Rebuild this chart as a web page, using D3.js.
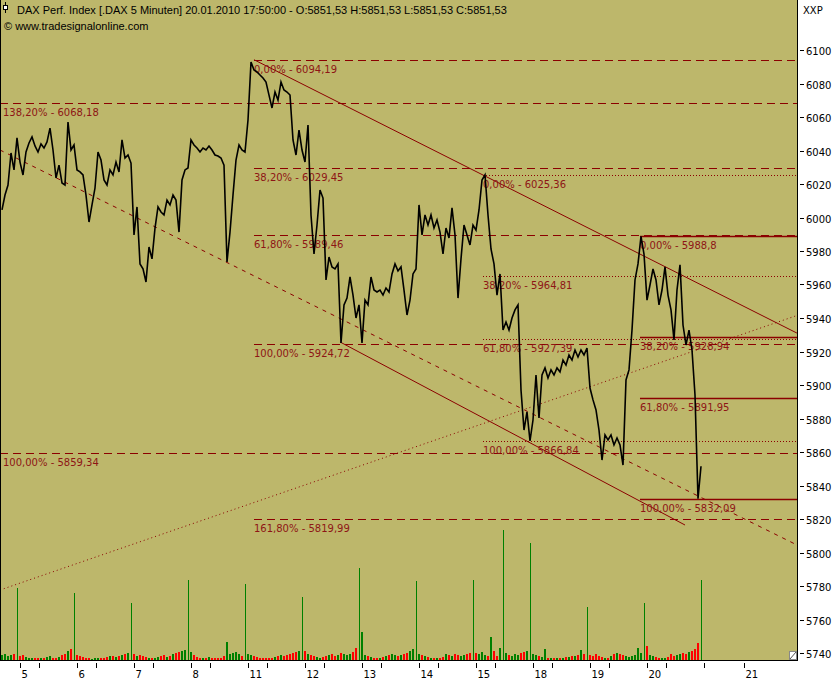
<!DOCTYPE html>
<html><head><meta charset="utf-8">
<script src="https://cdn.jsdelivr.net/npm/d3@7/dist/d3.min.js"></script>
<style>body{margin:0;background:#fff}svg{display:block}</style>
</head><body>
<svg id="c" width="840" height="680"></svg>
<script>
// ---------- data ----------
const dayLabels = ["5","6","7","8","11","12","13","14","15","18","19","20"];
const extraTickDays = [12, 12.7];
const extraTickLabels = ["", "21"];
const samplesPerDay = 19;
const firstSampleDay = -6/19;
const price = [
6004.5,6013.4,6019.4,6038.5,6028.4,6047.5,6033.1,6025.4,6039.1,6044.5,
6048.1,6042.7,6039.1,6043.9,6041.5,6045.1,6053.4,6040.3,6023.6,6031.3,
6020.6,6019.4,6057.0,6040.3,6043.3,6028.4,6027.2,6025.4,6013.4,5997.3,
6007.5,6017.6,6039.1,6034.3,6022.4,6019.4,6028.4,6025.4,6033.1,6027.2,
6046.3,6035.5,6037.3,6032.5,5989.6,6006.3,5972.3,5969.3,5961.5,5982.4,
5975.3,5993.7,6006.3,6003.3,6001.5,6010.4,6007.5,6013.4,6010.4,5991.3,
6022.4,6028.4,6029.6,6046.3,6043.3,6041.5,6039.1,6041.5,6040.3,6042.7,
6040.3,6037.3,6036.7,6035.5,6031.3,5973.5,5991.3,6013.4,6034.3,6043.3,
6040.3,6039.1,6058.2,6092.8,6088.1,6086.9,6085.1,6083.3,6080.9,6073.1,
6065.4,6074.9,6070.1,6080.9,6076.1,6074.9,6073.1,6046.3,6037.3,6052.2,
6040.3,6033.1,6055.2,6001.5,5978.2,5995.5,6016.4,6011.6,5962.7,5976.4,
5970.5,5969.3,5972.3,5925.1,5947.8,5951.9,5964.5,5953.7,5940.0,5947.8,
5925.1,5950.7,5947.8,5964.5,5956.7,5955.5,5956.7,5953.7,5957.9,5955.5,
5966.3,5972.3,5968.1,5970.5,5956.7,5941.8,5950.7,5966.3,5969.3,6007.5,
5989.6,6001.5,5995.5,6001.5,5993.7,5998.5,5991.3,5978.2,5993.7,5987.8,
6005.7,5989.6,5951.9,5975.3,5995.5,5989.6,5983.6,5995.5,5992.5,6004.5,
6022.4,6025.4,6001.5,5981.2,5972.3,5953.7,5966.3,5932.8,5937.6,5932.8,
5940.0,5944.8,5947.8,5897.0,5873.1,5883.9,5866.6,5879.1,5906.0,5880.3,
5906.0,5910.2,5904.2,5909.0,5906.0,5910.2,5907.8,5914.9,5911.9,5917.9,
5914.9,5920.9,5916.7,5920.9,5917.9,5922.1,5898.2,5891.1,5885.1,5873.1,
5855.2,5870.2,5867.2,5870.2,5864.2,5868.4,5864.2,5852.2,5903.0,5909.0,
5932.8,5962.7,5972.3,5988.8,5978.2,5950.7,5959.7,5969.3,5962.7,5947.8,
5956.7,5970.5,5953.7,5944.8,5926.9,5956.7,5971.7,5935.8,5923.9,5932.8,
5920.9,5894.0,5832.1,5851.5];
const volume = [
25,30,20,25,30,360,
20,25,15,12,10,8,10,10,12,15,20,12,10,15,25,30,45,55,335,
25,20,15,10,8,6,8,10,8,12,15,20,18,15,20,25,30,35,285,
30,20,25,20,15,10,12,10,15,20,25,15,20,30,35,40,45,50,400,
40,25,15,12,10,12,15,10,8,10,12,20,90,30,35,40,30,20,380,
30,25,20,15,12,10,8,10,12,15,20,25,20,25,30,35,40,45,315,
45,30,25,20,15,12,15,20,25,30,20,25,35,30,25,30,40,60,460,
140,25,20,15,12,10,12,15,20,25,30,25,20,25,30,35,45,55,395,
30,25,20,15,12,10,8,12,15,30,25,20,30,25,20,25,30,35,400,
35,30,40,25,20,115,45,20,60,650,35,25,20,30,25,35,40,45,585,
30,25,20,15,55,10,8,8,10,10,12,15,15,20,20,25,50,30,265,
25,20,30,20,15,12,10,20,30,35,30,25,20,15,20,25,60,35,285,
70,25,20,15,12,10,12,15,30,20,25,30,35,30,40,45,55,85,400];
const yTickValues = d3.range(5740, 6101, 20);
// Fibonacci retracement sets
const fibStartDays = [-0.351, 4.105, 8.123, 10.877];
const fibPercents = [
  ["138,20%","100,00%"],
  ["0,00%","38,20%","61,80%","100,00%","161,80%"],
  ["0,00%","38,20%","61,80%","100,00%"],
  ["0,00%","38,20%","61,80%","100,00%"]];
const fibValues = [
  [6068.18, 5859.34],
  [6094.19, 6029.45, 5989.46, 5924.72, 5819.99],
  [6025.36, 5964.81, 5927.39, 5866.84],
  [5988.8, 5928.94, 5891.95, 5832.09]];
const fibDash = ["8,5", "8,5", "1,2", null];
// trend lines: [startDay, endDay], [startPrice, endPrice]
const trendDays = [[4.105, 13.63], [5.614, 11.667], [-0.351, 13.63], [-0.351, 13.63]];
const trendPrices = [[6094.19, 5931.0], [5925.7, 5816.4], [6040.3, 5804.5], [5777.6, 5941.5]];
const trendDash = [null, null, "4,5", "1,3"];
const headerText = "DAX Perf. Index [.DAX  5 Minuten] 20.01.2010 17:50:00 - O:5851,53 H:5851,53 L:5851,53 C:5851,53";
const sourceText = "\u00a9 www.tradesignalonline.com";

// ---------- layout ----------
const PL = 0, PR = 797, PT = 0, PB = 660;
const bg = "#BDB76B", red = "#8B0000", txtRed = "#8E1515";
const font = "'Liberation Sans', Arial, sans-serif";
const font2 = "'DejaVu Sans', sans-serif";
const svg = d3.select("#c");
const x = d3.scaleLinear().domain([0, 12]).range([20, 704]);
const y = d3.scaleLinear().domain([5740, 6100]).range([653, 50]);
const yv = d3.scaleLinear().domain([0, 1000]).range([PB, PB - 200]);

svg.append("rect").attr("x", PL).attr("y", PT).attr("width", PR - PL).attr("height", PB - PT).attr("fill", bg);
svg.append("defs").append("clipPath").attr("id", "clip").append("rect")
  .attr("x", PL + 1).attr("y", PT).attr("width", PR - PL - 1).attr("height", PB - PT);
const g = svg.append("g").attr("clip-path", "url(#clip)");

const dayOf = i => firstSampleDay + i / samplesPerDay;

// volume
g.append("g").selectAll("rect").data(volume).join("rect")
  .attr("x", (v, i) => Math.round(x(dayOf(i))) - (v > 200 ? 0 : 1))
  .attr("width", v => v > 200 ? 1 : 2)
  .attr("y", v => yv(v)).attr("height", v => PB - yv(v))
  .attr("shape-rendering", "crispEdges")
  .attr("fill", (v, i) => (v >= 90 || i === 0 || price[i] >= price[i - 1]) ? "#008000" : "#FF0000");

// fib lines
fibValues.forEach((vals, s) => {
  vals.forEach((v, k) => {
    const ln = g.append("line")
      .attr("x1", x(fibStartDays[s])).attr("x2", PR)
      .attr("y1", Math.round(y(v)) + 0.5).attr("y2", Math.round(y(v)) + 0.5)
      .attr("stroke", red).attr("stroke-width", s === 3 ? 1.3 : 1);
    if (fibDash[s]) ln.attr("stroke-dasharray", fibDash[s]);
  });
});
// trend lines
trendDays.forEach((td, k) => {
  const ln = g.append("line")
    .attr("x1", x(td[0])).attr("x2", x(td[1]))
    .attr("y1", y(trendPrices[k][0])).attr("y2", y(trendPrices[k][1]))
    .attr("stroke", red).attr("stroke-width", 1);
  if (trendDash[k]) ln.attr("stroke-dasharray", trendDash[k]);
});
// fib labels
fibValues.forEach((vals, s) => {
  vals.forEach((v, k) => {
    g.append("text").attr("x", x(fibStartDays[s]) + (s === 0 ? 3 : 0)).attr("y", y(v) + 13)
      .attr("font-family", font2).attr("font-size", 10).attr("fill", txtRed)
      .text(fibPercents[s][k] + " - " + String(v).replace(".", ","));
  });
});
// price
g.append("path").datum(price)
  .attr("d", d3.line().x((p, i) => x(dayOf(i))).y(p => y(p)))
  .attr("fill", "none").attr("stroke", "#000").attr("stroke-width", 1.6).attr("stroke-linejoin", "miter");

// frame
svg.append("line").attr("x1", 0.5).attr("x2", 0.5).attr("y1", 0).attr("y2", PB + 1).attr("stroke", "#000");
svg.append("line").attr("x1", PR + 0.5).attr("x2", PR + 0.5).attr("y1", 0).attr("y2", PB + 1).attr("stroke", "#000");
svg.append("line").attr("x1", 0).attr("x2", PR + 1).attr("y1", PB + 0.5).attr("y2", PB + 0.5).attr("stroke", "#000");
// resize glyph
svg.append("rect").attr("x", 789.5).attr("y", 651.5).attr("width", 7).attr("height", 8).attr("fill", "#fff").attr("stroke", "#888");
svg.append("line").attr("x1", 790).attr("y1", 659).attr("x2", 796).attr("y2", 652).attr("stroke", "#555");

// y axis
const ya = svg.append("g");
yTickValues.forEach(v => {
  const yy = Math.round(y(v)) + 0.5;
  ya.append("line").attr("x1", 800).attr("x2", 804).attr("y1", yy).attr("y2", yy).attr("stroke", "#000");
  ya.append("text").attr("x", 806).attr("y", yy + 4).attr("font-family", font2).attr("font-size", 10).text(v);
});
svg.append("text").attr("x", 803).attr("y", 14).attr("font-family", font2).attr("font-size", 10).text("XXP");

// x axis
const xa = svg.append("g");
const majors = dayLabels.map((l, k) => ({t: k, l})).concat(extraTickDays.map((t, k) => ({t, l: extraTickLabels[k]})));
majors.forEach(d => {
  const xx = Math.round(x(d.t)) + 0.5;
  xa.append("line").attr("x1", xx).attr("x2", xx).attr("y1", 663).attr("y2", 668).attr("stroke", "#000");
  xa.append("text").attr("x", xx + 1).attr("y", 678).attr("font-family", font2).attr("font-size", 10).text(d.l);
});
dayLabels.forEach((l, k) => {
  const xx = Math.round(x(k + 0.342)) + 0.5;
  xa.append("line").attr("x1", xx).attr("x2", xx).attr("y1", 663).attr("y2", 668).attr("stroke", "#000");
});

// header
svg.append("line").attr("x1", 5.5).attr("x2", 5.5).attr("y1", 2).attr("y2", 13).attr("stroke", "#000");
svg.append("rect").attr("x", 3.5).attr("y", 5.5).attr("width", 4).attr("height", 4).attr("fill", "#fff").attr("stroke", "#000");
svg.append("text").attr("x", 17).attr("y", 14).attr("font-family", font).attr("font-size", 11).text(headerText);
svg.append("text").attr("x", 4).attr("y", 30).attr("font-family", font).attr("font-size", 11).text(sourceText);
</script>
</body></html>
